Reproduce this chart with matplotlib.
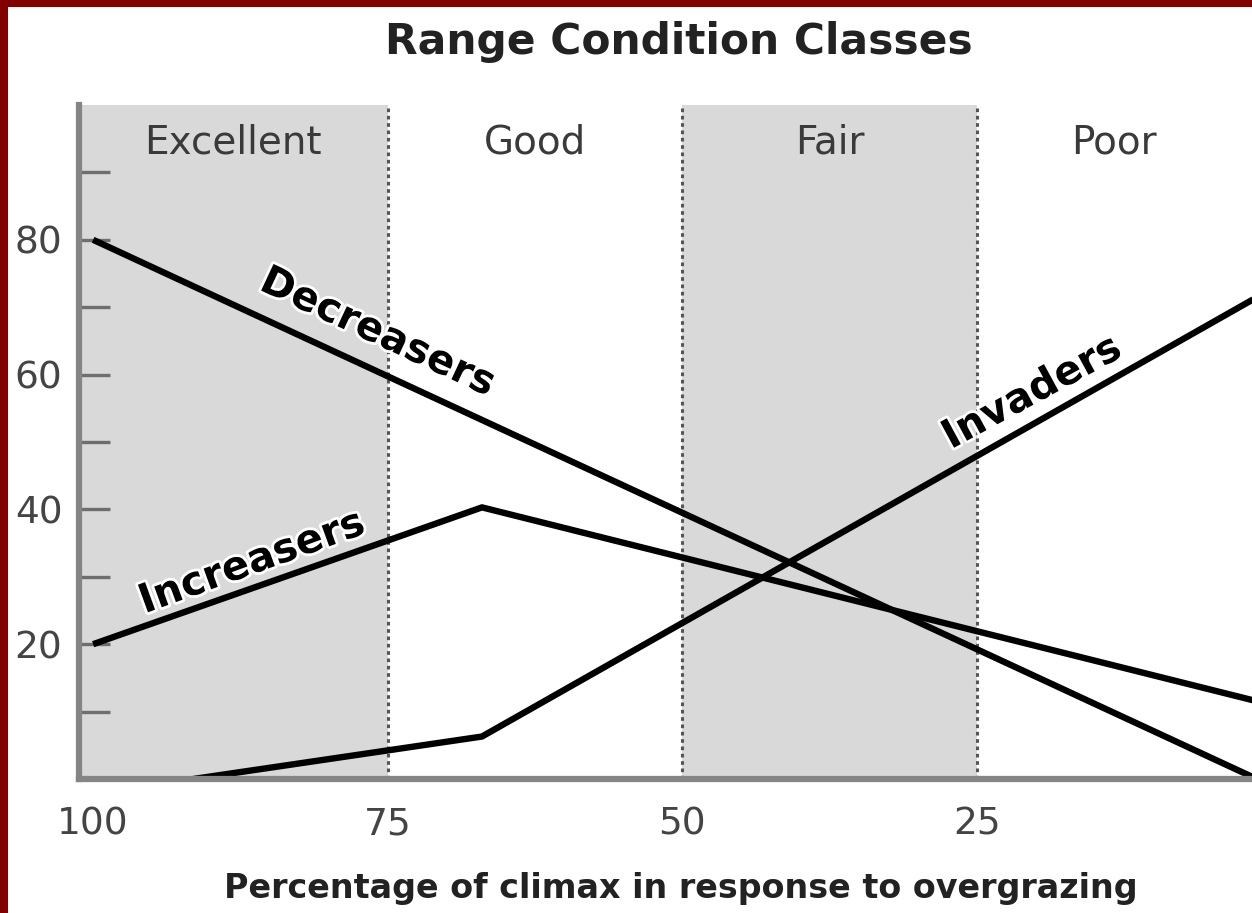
import matplotlib
matplotlib.use("Agg")
import matplotlib.pyplot as plt
from matplotlib.patches import Rectangle
import matplotlib.patheffects as pe

# ---- data ----
classes = ["Excellent", "Good", "Fair", "Poor"]
class_edges = [101.2, 75, 50, 25, 1.65]
class_shaded = [True, False, True, False]
divider_x = [75, 50, 25]

decr_x = [100, 0]
decr_y = [80, -1]
incr_x = [100, 67, 0]
incr_y = [20, 40.3, 11]
inv_x = [91.5, 67, 0]
inv_y = [0, 6.3, 72.7]

x_ticks = [100, 75, 50, 25]
y_major = [20, 40, 60, 80]
y_minor = [10, 30, 50, 70, 90]

W, H = 1252, 913
fig = plt.figure(figsize=(W / 100, H / 100), dpi=100)
fig.patch.set_facecolor("white")

ax = fig.add_axes([79 / W, (H - 779) / H, (W - 79) / W, (779 - 105) / H])
ax.set_xlim(class_edges[0], class_edges[-1])
ax.set_ylim(0, 100)

# shaded bands
for i, sh in enumerate(class_shaded):
    if sh:
        ax.axvspan(class_edges[i], class_edges[i + 1], color="#d9d9d9", zorder=0, lw=0)
for xv in divider_x:
    ax.axvline(xv, color="#555555", lw=2.2, ls=(0, (1.2, 1.2)), zorder=1)

# class labels
for i, name in enumerate(classes):
    cx = (class_edges[i] + class_edges[i + 1]) / 2
    ax.text(cx, 94.4, name, ha="center", va="center", fontsize=28,
            color="#3a3a3a", zorder=3)

lw = 4.6
ax.plot(decr_x, decr_y, color="black", lw=lw, solid_capstyle="butt", zorder=4)
ax.plot(incr_x, incr_y, color="black", lw=lw, solid_capstyle="butt", zorder=4)
ax.plot(inv_x, inv_y, color="black", lw=lw, solid_capstyle="butt", zorder=4)

halo = [pe.withStroke(linewidth=4, foreground="white")]
ax.text(75.85, 66.2, "Decreasers", rotation=-25, rotation_mode="anchor",
        ha="center", va="center", fontsize=29, fontweight="bold", color="black",
        zorder=5, path_effects=halo)
ax.text(86.5, 32.1, "Increasers", rotation=20, rotation_mode="anchor",
        ha="center", va="center", fontsize=29, fontweight="bold", color="black",
        zorder=5, path_effects=halo)
ax.text(20.3, 57.3, "Invaders", rotation=28.5, rotation_mode="anchor",
        ha="center", va="center", fontsize=29, fontweight="bold", color="black",
        zorder=5, path_effects=halo)

# axes styling
for s in ["top", "right"]:
    ax.spines[s].set_visible(False)
for s in ["left", "bottom"]:
    ax.spines[s].set_color("#858585")
    ax.spines[s].set_linewidth(4.5)
    ax.spines[s].set_zorder(6)

ax.set_yticks(y_major)
ax.set_yticks(y_minor, minor=True)
ax.set_xticks(x_ticks)
ax.tick_params(axis="y", which="both", direction="in", length=22, width=2.4,
               color="#6e6e6e", labelsize=27, labelcolor="#444444", pad=12)
ax.tick_params(axis="x", which="both", length=0, labelsize=27,
               labelcolor="#444444", pad=20)
ax.set_xticklabels([str(v) for v in x_ticks])

fig.text(679 / W, 1 - 42 / H, "Range Condition Classes", ha="center", va="center",
         fontsize=30.5, fontweight="bold", color="#222222")
fig.text(681 / W, 1 - 888 / H, "Percentage of climax in response to overgrazing",
         ha="center", va="center", fontsize=24, fontweight="bold", color="#222222")

# dark red frame on left and top
fig.add_artist(Rectangle((0, 0), 8 / W, 1, transform=fig.transFigure,
                         color="#800000", lw=0, zorder=10))
fig.add_artist(Rectangle((0, 1 - 7 / H), 1, 7 / H, transform=fig.transFigure,
                         color="#800000", lw=0, zorder=10))

fig.savefig("out.png", dpi=100)
